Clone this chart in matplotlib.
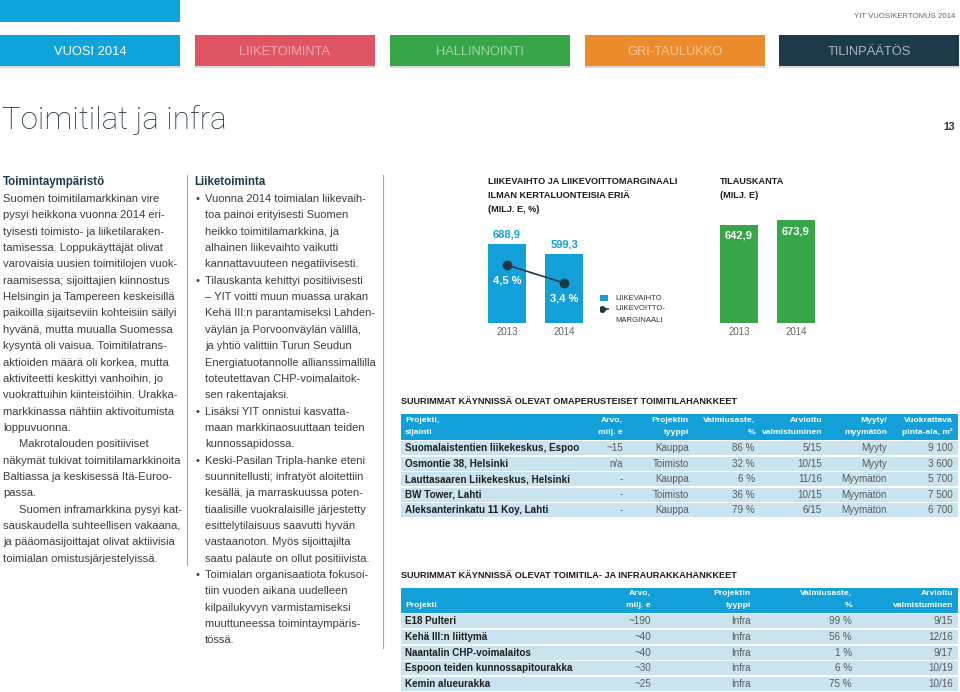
import matplotlib
matplotlib.use('Agg')
import matplotlib.pyplot as plt
from matplotlib.patches import Rectangle

# sivun koko pikseleinä
W, H = 960, 692

# --- kaavioiden data ---
years = ['2013', '2014']
liikevaihto = [688.9, 599.3]      # milj. e
marginaali = [4.5, 3.4]           # %
tilauskanta = [642.9, 673.9]      # milj. e

# --- navigaatio ---
nav_labels = ['VUOSI 2014', 'LIIKETOIMINTA', 'HALLINNOINTI', 'GRI-TAULUKKO', 'TILINPÄÄTÖS']
nav_colors = ['#0fa3dc', '#e05563', '#37a649', '#ec8a2e', '#1d3a48']
nav_text_colors = ['#ffffff', '#f3a9b0', '#a3d5a8', '#f7c795', '#a9b8bf']

# --- tekstipalstat ---
left_heading = 'Toimintaympäristö'
left_lines = [
    'Suomen toimitilamarkkinan vire',
    'pysyi heikkona vuonna 2014 eri-',
    'tyisesti toimisto- ja liiketilaraken-',
    'tamisessa. Loppukäyttäjät olivat',
    'varovaisia uusien toimitilojen vuok-',
    'raamisessa; sijoittajien kiinnostus',
    'Helsingin ja Tampereen keskeisillä',
    'paikoilla sijaitseviin kohteisiin säilyi',
    'hyvänä, mutta muualla Suomessa',
    'kysyntä oli vaisua. Toimitilatrans-',
    'aktioiden määrä oli korkea, mutta',
    'aktiviteetti keskittyi vanhoihin, jo',
    'vuokrattuihin kiinteistöihin. Urakka-',
    'markkinassa nähtiin aktivoitumista',
    'loppuvuonna.',
    '>Makrotalouden positiiviset',
    'näkymät tukivat toimitilamarkkinoita',
    'Baltiassa ja keskisessä Itä-Euroo-',
    'passa.',
    '>Suomen inframarkkina pysyi kat-',
    'sauskaudella suhteellisen vakaana,',
    'ja pääomasijoittajat olivat aktiivisia',
    'toimialan omistusjärjestelyissä.',
]
mid_heading = 'Liiketoiminta'
mid_lines = [
    '*Vuonna 2014 toimialan liikevaih-',
    'toa painoi erityisesti Suomen',
    'heikko toimitilamarkkina, ja',
    'alhainen liikevaihto vaikutti',
    'kannattavuuteen negatiivisesti.',
    '*Tilauskanta kehittyi positiivisesti',
    '– YIT voitti muun muassa urakan',
    'Kehä III:n parantamiseksi Lahden-',
    'väylän ja Porvoonväylän välillä,',
    'ja yhtiö valittiin Turun Seudun',
    'Energiatuotannolle allianssimallilla',
    'toteutettavan CHP-voimalaitok-',
    'sen rakentajaksi.',
    '*Lisäksi YIT onnistui kasvatta-',
    'maan markkinaosuuttaan teiden',
    'kunnossapidossa.',
    '*Keski-Pasilan Tripla-hanke eteni',
    'suunnitellusti; infratyöt aloitettiin',
    'kesällä, ja marraskuussa poten-',
    'tiaalisille vuokralaisille järjestetty',
    'esittelytilaisuus saavutti hyvän',
    'vastaanoton. Myös sijoittajilta',
    'saatu palaute on ollut positiivista.',
    '*Toimialan organisaatiota fokusoi-',
    'tiin vuoden aikana uudelleen',
    'kilpailukyvyn varmistamiseksi',
    'muuttuneessa toimintaympäris-',
    'tössä.',
]

# --- taulukot ---
t1_title = 'SUURIMMAT KÄYNNISSÄ OLEVAT OMAPERUSTEISET TOIMITILAHANKKEET'
t1_cols = ['Projekti,\nsijainti', 'Arvo,\nmilj. e', 'Projektin\ntyyppi', 'Valmiusaste,\n%',
           'Arvioitu\nvalmistuminen', 'Myyty/\nmyymätön', 'Vuokrattava\npinta-ala, m²']
t1_rows = [
    ['Suomalaistentien liikekeskus, Espoo', '~15', 'Kauppa', '86 %', '5/15', 'Myyty', '9 100'],
    ['Osmontie 38, Helsinki', 'n/a', 'Toimisto', '32 %', '10/15', 'Myyty', '3 600'],
    ['Lauttasaaren Liikekeskus, Helsinki', '-', 'Kauppa', '6 %', '11/16', 'Myymätön', '5 700'],
    ['BW Tower, Lahti', '-', 'Toimisto', '36 %', '10/15', 'Myymätön', '7 500'],
    ['Aleksanterinkatu 11 Koy, Lahti', '-', 'Kauppa', '79 %', '6/15', 'Myymätön', '6 700'],
]
t2_title = 'SUURIMMAT KÄYNNISSÄ OLEVAT TOIMITILA- JA INFRAURAKKAHANKKEET'
t2_cols = ['Projekti', 'Arvo,\nmilj. e', 'Projektin\ntyyppi', 'Valmiusaste,\n%', 'Arvioitu\nvalmistuminen']
t2_rows = [
    ['E18 Pulteri', '~190', 'Infra', '99 %', '9/15'],
    ['Kehä III:n liittymä', '~40', 'Infra', '56 %', '12/16'],
    ['Naantalin CHP-voimalaitos', '~40', 'Infra', '1 %', '9/17'],
    ['Espoon teiden kunnossapitourakka', '~30', 'Infra', '6 %', '10/19'],
    ['Kemin alueurakka', '~25', 'Infra', '75 %', '10/16'],
]

# värit ja fontit
BLUE = '#13a0d8'
GREEN = '#37a649'
NAVY = '#1d3a48'
ROWBG = '#c9e4ef'
BODY = '#3c3c3c'
SANS = ['Liberation Sans', 'DejaVu Sans']

plt.rcParams['font.family'] = SANS


def fmt(v):
    return f'{v:.1f}'.replace('.', ',')


def px_axes(x0, y0, x1, y1):
    # akselit pikselikoordinaateista
    return fig.add_axes([x0 / W, 1 - y1 / H, (x1 - x0) / W, (y1 - y0) / H])


fig = plt.figure(figsize=(W / 100, H / 100), dpi=100)
bg = fig.add_axes([0, 0, 1, 1])
bg.set_xlim(0, W)
bg.set_ylim(H, 0)
bg.axis('off')

# ylälaita
bg.add_patch(Rectangle((0, 0), 180, 22, color='#0fa3dc', lw=0))
bg.text(955, 17, 'YIT VUOSIKERTOMUS 2014', ha='right', va='center', fontsize=5.6,
        color='#666666')

nav_x = [0, 195, 390, 585, 779]
for x, lab, c, tc in zip(nav_x, nav_labels, nav_colors, nav_text_colors):
    bg.add_patch(Rectangle((x, 35), 180, 31, color=c, lw=0))
    bg.add_patch(Rectangle((x, 66), 180, 2, color='#000000', alpha=0.15, lw=0))
    bg.text(x + 90, 52, lab, ha='center', va='center', fontsize=9.3, color=tc)

bg.text(2, 120, 'Toimitilat ja infra', ha='left', va='center', fontsize=22.5,
        color='#23343d', fontweight='light', family=['Roboto', 'Liberation Sans'])
bg.text(955, 127, '13', ha='right', va='center', fontsize=7.5, fontweight='bold', color='#23343d')

# palstojen erottimet
bg.plot([187, 187], [175, 565], color='#a0aab0', lw=0.8)
bg.plot([383, 383], [175, 648], color='#a0aab0', lw=0.8)

# tekstipalstat
LH = 16.35
bg.text(3, 182, left_heading, fontsize=8.3, fontweight='bold', color=NAVY, va='center')
for i, line in enumerate(left_lines):
    x = 3
    if line.startswith('>'):
        line, x = line[1:], 19
    bg.text(x, 199 + i * LH, line, fontsize=8.1, color=BODY, va='center')

bg.text(194, 182, mid_heading, fontsize=8.3, fontweight='bold', color=NAVY, va='center')
for i, line in enumerate(mid_lines):
    y = 199 + i * LH
    if line.startswith('*'):
        line = line[1:]
        bg.text(196, y, '•', fontsize=8.1, color=BODY, va='center')
    bg.text(205, y, line, fontsize=8.05, color=BODY, va='center')

# --- kaavio 1: liikevaihto ja liikevoittomarginaali ---
for i, t in enumerate(['LIIKEVAIHTO JA LIIKEVOITTOMARGINAALI', 'ILMAN KERTALUONTEISIA ERIÄ',
                       '(MILJ. E, %)']):
    bg.text(488, 181 + i * 14, t, fontsize=6.6, fontweight='bold', color='#1b1b1b',
            va='center')

ax1 = px_axes(480, 225, 600, 323)
xs = [0, 1]
ax1.bar(xs, liikevaihto, width=0.68, color=BLUE)
ax1.set_xlim(-0.474, 1.63)
ax1.set_ylim(0, 854.6)
for s in ax1.spines.values():
    s.set_visible(False)
ax1.set_yticks([])
ax1.set_xticks(xs, years)
ax1.tick_params(axis='x', length=0, pad=3, labelsize=7, labelcolor='#666666')
for x, v in zip(xs, liikevaihto):
    ax1.annotate(fmt(v), (x, v), xytext=(0, 7.2), textcoords='offset points', ha='center',
                 va='center', fontsize=8, fontweight='bold', color=BLUE)

ax1b = ax1.twinx()
ax1b.set_ylim(0.955, 6.945)
ax1b.plot(xs, marginaali, color=NAVY, lw=1.2, marker='o', markersize=6)
ax1b.axis('off')
for x, v in zip(xs, marginaali):
    ax1b.annotate(fmt(v) + ' %', (x, v), xytext=(0, -11.3), textcoords='offset points',
                  ha='center', va='center', fontsize=8, fontweight='bold', color='white')

# selite
bg.add_patch(Rectangle((595, 295), 13, 6, color=BLUE, lw=0))
bg.plot([595, 608], [309, 309], color=NAVY, lw=1.2)
bg.plot([601.5], [309], marker='o', markersize=4, color=NAVY)
for y, t in zip([298, 309, 320], ['LIIKEVAIHTO', 'LIIKEVOITTO-', 'MARGINAALI']):
    bg.text(615, y, t, fontsize=5.6, color='#333333', va='center')

# --- kaavio 2: tilauskanta ---
for i, t in enumerate(['TILAUSKANTA', '(MILJ. E)']):
    bg.text(720, 181 + i * 14, t, fontsize=6.6, fontweight='bold', color='#1b1b1b',
            va='center')

ax2 = px_axes(700, 200, 840, 323)
ax2.bar(xs, tilauskanta, width=0.67, color=GREEN)
ax2.set_xlim((700 - 739) / 57, (840 - 739) / 57)
ax2.set_ylim(0, 804.8)
for s in ax2.spines.values():
    s.set_visible(False)
ax2.set_yticks([])
ax2.set_xticks(xs, years)
ax2.tick_params(axis='x', length=0, pad=3, labelsize=7, labelcolor='#666666')
for x, v in zip(xs, tilauskanta):
    ax2.annotate(fmt(v), (x, v), xytext=(0, -8), textcoords='offset points', ha='center',
                 va='center', fontsize=8, fontweight='bold', color='white')


# --- taulukot ---
def draw_table(title, title_y, cols, rows, col_x, head_top, head_bot, row_tops, row_h):
    bg.text(401, title_y, title, fontsize=6.6, fontweight='bold', color='#1b1b1b',
            va='center')
    bg.add_patch(Rectangle((401, head_top), 557, head_bot - head_top, color=BLUE, lw=0))
    y2 = head_bot - 7.5
    for j, (c, x) in enumerate(zip(cols, col_x)):
        parts = c.split('\n')
        if len(parts) == 1:
            parts = ['', parts[0]]
        ha = 'left' if j == 0 else 'right'
        for k, p in enumerate(parts):
            bg.text(x, y2 - (1 - k) * 12, p, ha=ha, va='center', fontsize=6.1,
                    fontweight='bold', color='white')
    for r, (row, top) in enumerate(zip(rows, row_tops)):
        bg.add_patch(Rectangle((401, top), 557, row_h, color=ROWBG, lw=0))
        yc = top + row_h / 2
        for j, (val, x) in enumerate(zip(row, col_x)):
            if j == 0:
                bg.text(x, yc, val, ha='left', va='center', fontsize=7.1,
                        fontweight='bold', color='#1e1e1e')
            else:
                bg.text(x, yc, val, ha='right', va='center', fontsize=7.1, color='#5a5a5a')


draw_table(t1_title, 401, t1_cols, t1_rows, [405, 623, 689, 755, 822, 887, 953],
           414, 440, [441, 456.5, 472, 487.5, 503], 14.2)
draw_table(t2_title, 576, t2_cols, t2_rows, [405, 651, 751, 852, 953],
           588, 613, [614, 630, 645.5, 661, 676.5], 14.3)

fig.savefig('out.png', dpi=100)
